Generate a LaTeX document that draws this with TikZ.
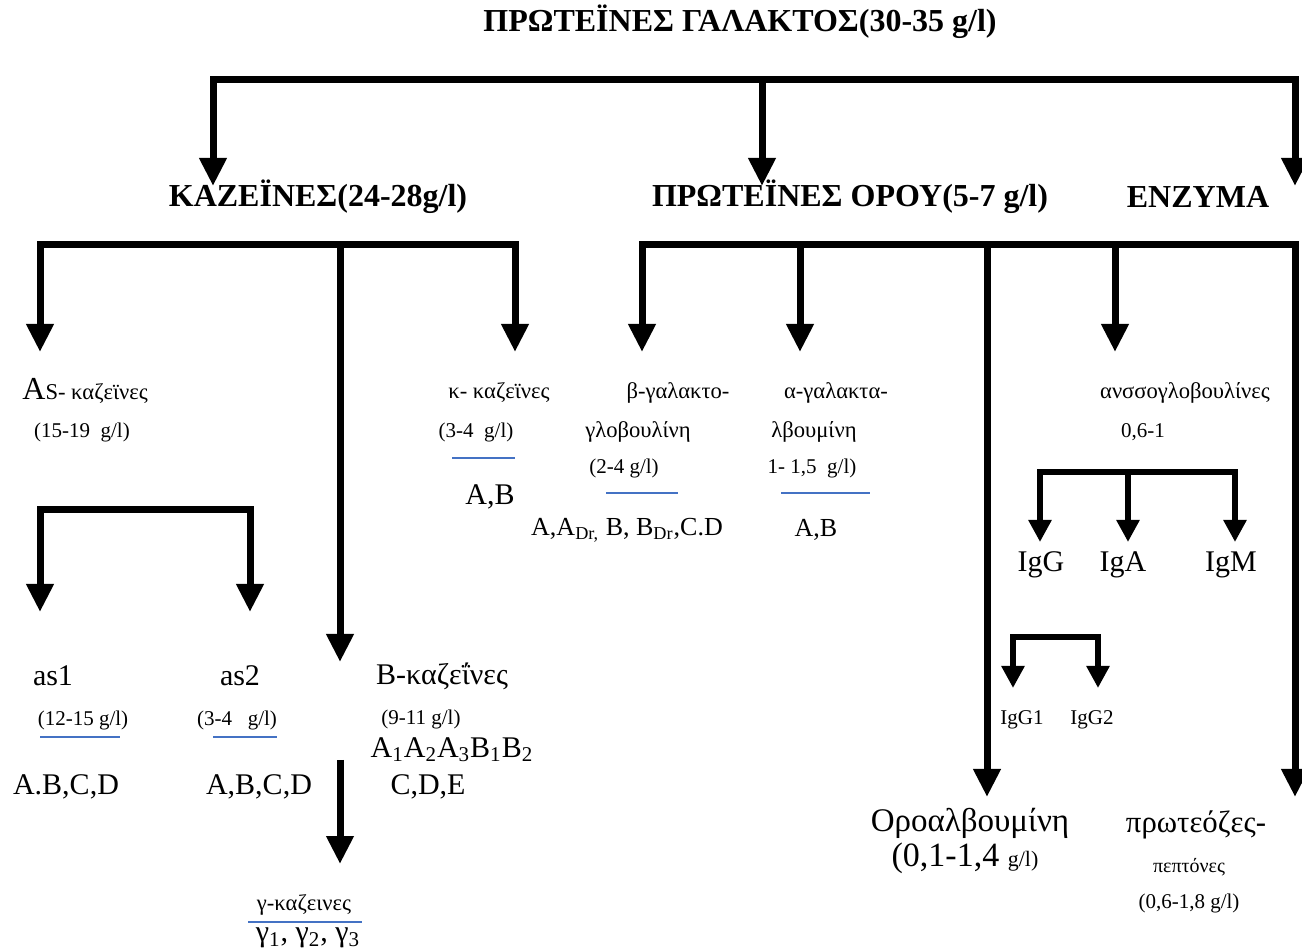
\documentclass[tikz,border=0pt]{standalone}
\usepackage{fontspec}
\setmainfont{Liberation Serif}
\usetikzlibrary{arrows.meta}
\definecolor{ulblue}{RGB}{68,114,196}
\begin{document}
\begin{tikzpicture}[x=0.5pt,y=-0.5pt,every node/.style={inner sep=0pt},
  hd/.style={font=\bfseries\fontsize{16}{18}\selectfont},
  sm/.style={font=\fontsize{10.5}{12}\selectfont},
  gr/.style={font=\fontsize{11.3}{13}\selectfont},
  md/.style={font=\fontsize{15}{17}\selectfont},
  bar/.style={line width=3.5pt,line cap=rect},
  sbar/.style={line width=3pt,line cap=rect},
  drop/.style={line width=3.5pt,-{Triangle[width=13pt,length=14pt]}},
  sdrop/.style={line width=3pt,-{Triangle[width=11pt,length=11pt]}},
  ul/.style={line width=1pt,draw=ulblue}]
\useasboundingbox (0,0) rectangle (1302,951);
\node[hd] (title) at (740,22) {ΠΡΩΤΕΪΝΕΣ ΓΑΛΑΚΤΟΣ(30-35 g/l)};
\node[hd] (kaz) at (318,197) {ΚΑΖΕΪΝΕΣ(24-28g/l)};
\node[hd] (orou) at (850,197) {ΠΡΩΤΕΪΝΕΣ ΟΡΟΥ(5-7 g/l)};
\node[hd] (enz) at (1198,197) {ΕΝΖΥΜΑ};
\node[gr,anchor=base west] (askaz) at (22,400) {{\fontsize{16}{18}\selectfont A}S- καζεϊνες};
\node[sm] (askazq) at (82,432) {(15-19~ g/l)};
\node[gr] (kkaz) at (499,393) {κ- καζεϊνες};
\node[sm] (kkazq) at (476,432) {(3-4~~g/l)};
\node[md] (kkazv) at (490,497) {A,B};
\node[gr] (blg) at (678,393) {β-γαλακτο-};
\node[gr] (blgb) at (638,432) {γλοβουλίνη};
\node[sm] (blgq) at (624,468) {(2-4 g/l)};
\node[font=\fontsize{13}{15}\selectfont] (blgv) at (627,530) {A,A\textsubscript{Dr,} B, B\textsubscript{Dr},C.D};
\node[gr] (alg) at (836,393) {α-γαλακτα-};
\node[gr] (algb) at (814,432) {λβουμίνη};
\node[sm] (algq) at (812,468) {1- 1,5~~g/l)};
\node[font=\fontsize{13}{15}\selectfont] (algv) at (816,530) {A,B};
\node[gr] (anso) at (1185,393) {ανσσογλοβουλίνες};
\node[sm] (ansoq) at (1143,432) {0,6-1};
\node[md] (igG) at (1041,565) {IgG};
\node[md] (igA) at (1123,565) {IgA};
\node[md] (igM) at (1231,565) {IgM};
\node[sm] (igGa) at (1022,720) {IgG1};
\node[sm] (igGb) at (1092,720) {IgG2};
\node[md] (asa) at (53,676) {as1};
\node[md] (asb) at (240,676) {as2};
\node[md] (bkaz) at (442,676) {Β-καζεΐνες};
\node[sm] (asaq) at (83,720) {(12-15 g/l)};
\node[sm] (asbq) at (237,720) {(3-4~~~g/l)};
\node[sm] (bkazq) at (421,719) {(9-11 g/l)};
\node[md] (bkazv) at (452,750) {A\textsubscript{1}A\textsubscript{2}A\textsubscript{3}B\textsubscript{1}B\textsubscript{2}};
\node[md] (bkazw) at (428,787) {C,D,E};
\node[md] (asav) at (66,787) {A.B,C,D};
\node[md] (asbv) at (259,787) {A,B,C,D};
\node[gr] (gkaz) at (304,905) {γ-καζεινες};
\node[md] (gkazv) at (308,938) {γ\textsubscript{1}, γ\textsubscript{2}, γ\textsubscript{3}};
\node[font=\fontsize{16.5}{19}\selectfont] (oroa) at (970,823) {Οροαλβουμίνη};
\node[font=\fontsize{17}{19}\selectfont] (oroaq) at (965,858) {(0,1-1,4 {\fontsize{11}{12}\selectfont g/l)}};
\node[font=\fontsize{15.4}{18}\selectfont] (prot) at (1196,825) {πρωτεόζες-};
\node[font=\fontsize{10}{12}\selectfont] (pept) at (1189,867) {πεπτόνες};
\node[sm] (peptq) at (1189,903) {(0,6-1,8 g/l)};
\foreach \n/\x/\ya/\yb in {kaz/213/80/186,orou/762/80/186,enz/1295/80/186,as/40/245/352,b/340/245/662,
  k/515/245/352,bl/642/245/352,al/800/245/352,oa/987/245/797,ig/1115/245/352,pp/1295/245/797,
  as1/40/510/612,as2/250/510/612,igg/1040/472/542,iga/1128/472/542,igm/1235/472/542,
  igga/1013/637/688,iggb/1098/637/688,g/340/760/864}
  {\coordinate (j\n) at (\x,\ya); \coordinate (t\n) at (\x,\yb);}
\draw[bar] (jkaz) -- (jenz);
\draw[bar] (jas) -- (jk);
\draw[bar] (jbl) -- (jpp);
\draw[bar] (jas1) -- (jas2);
\draw[sbar] (jigg) -- (jigm);
\draw[sbar] (jigga) -- (jiggb);
\foreach \n in {kaz,orou,enz,as,b,k,bl,al,oa,ig,pp,as1,as2,g} \draw[drop] (j\n) -- (t\n);
\foreach \n in {igg,iga,igm,igga,iggb} \draw[sdrop] (j\n) -- (t\n);
\draw[ul] (452,458) -- (515,458);
\draw[ul] (606,493) -- (678,493);
\draw[ul] (781,493) -- (870,493);
\draw[ul] (40,737) -- (120,737);
\draw[ul] (213,737) -- (277,737);
\draw[ul] (248,922) -- (362,922);
\end{tikzpicture}
\end{document}
